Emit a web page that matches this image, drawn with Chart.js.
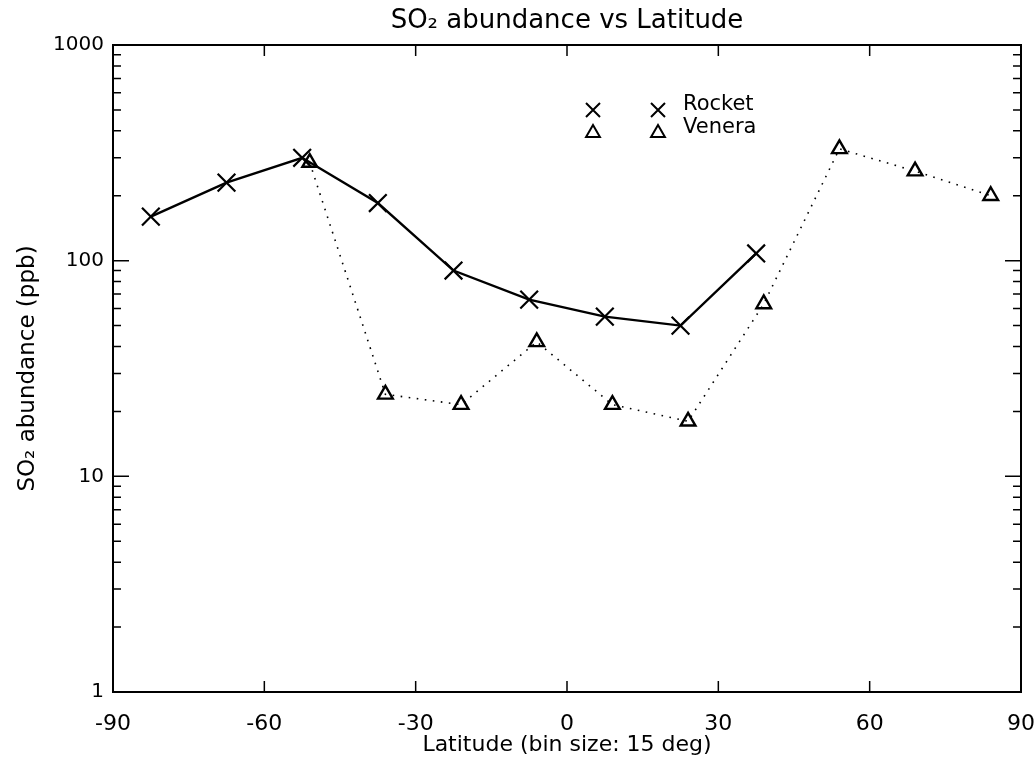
<!DOCTYPE html>
<html>
<head>
<meta charset="utf-8">
<script src="https://cdn.jsdelivr.net/npm/chart.js@4/dist/chart.umd.min.js"></script>
<style>
  html, body { margin: 0; padding: 0; background: #ffffff; }
  #wrap { width: 1036px; height: 766px; position: relative; background: #ffffff; }
</style>
</head>
<body>
<div id="wrap"><canvas id="c" width="1036" height="766"></canvas></div>
<script>
// ---- Data ----
const rocketLat = [-82.5, -67.5, -52.5, -37.5, -22.5, -7.5, 7.5, 22.5, 37.5];
const rocketSO2 = [160, 230, 300, 185, 90, 66, 55, 50, 108];
const veneraLat = [-51, -36, -21, -6, 9, 24, 39, 54, 69, 84];
const veneraSO2 = [285, 24, 21.5, 42, 21.5, 18, 63, 330, 260, 200];

const xTicks = [-90, -60, -30, 0, 30, 60, 90];
const yTicks = [1, 10, 100, 1000];
const seriesNames = ['Rocket', 'Venera'];
const chartTitle = 'SO\u2082 abundance vs Latitude';
const xTitle = 'Latitude (bin size: 15 deg)';
const yTitle = 'SO\u2082 abundance (ppb)';

const FONT = "'DejaVu Sans', 'Liberation Sans', sans-serif";

function toPoints(xs, ys) { return xs.map((x, i) => ({ x: x, y: ys[i] })); }

// minor ticks of the log axis (2..9 in each decade)
const yMinor = [];
for (let d = 0; d < yTicks.length - 1; d++) {
  for (let k = 2; k <= 9; k++) yMinor.push(k * yTicks[d]);
}

const frameTicks = {
  id: 'frameTicks',
  afterDraw(chart) {
    const { ctx, chartArea: a, scales } = chart;
    const xs = scales.x, ys = scales.y;
    ctx.save();
    ctx.strokeStyle = '#000';
    ctx.lineCap = 'butt';
    ctx.lineWidth = 2;
    ctx.strokeRect(a.left, a.top, a.right - a.left, a.bottom - a.top);
    ctx.lineWidth = 1.5;
    ctx.beginPath();
    xTicks.forEach(v => {
      if (v === xs.min || v === xs.max) return;
      const px = xs.getPixelForValue(v);
      ctx.moveTo(px, a.bottom); ctx.lineTo(px, a.bottom - 11);
      ctx.moveTo(px, a.top); ctx.lineTo(px, a.top + 11);
    });
    yTicks.forEach(v => {
      const py = ys.getPixelForValue(v);
      ctx.moveTo(a.left, py); ctx.lineTo(a.left + 16, py);
      ctx.moveTo(a.right, py); ctx.lineTo(a.right - 16, py);
    });
    yMinor.forEach(v => {
      const py = ys.getPixelForValue(v);
      ctx.moveTo(a.left, py); ctx.lineTo(a.left + 8, py);
      ctx.moveTo(a.right, py); ctx.lineTo(a.right - 8, py);
    });
    ctx.stroke();

    // legend (IDL style: symbol, symbol, label)
    const lx1 = a.left + 480, lx2 = a.left + 545, tx = a.left + 570;
    const ly = [a.top + 65, a.top + 88];
    ctx.lineWidth = 2;
    [lx1, lx2].forEach(cx => {
      const r = 7, cy = ly[0];
      ctx.beginPath();
      ctx.moveTo(cx - r, cy - r); ctx.lineTo(cx + r, cy + r);
      ctx.moveTo(cx - r, cy + r); ctx.lineTo(cx + r, cy - r);
      ctx.stroke();
    });
    [lx1, lx2].forEach(cx => {
      const r = 8, cy = ly[1];
      ctx.beginPath();
      ctx.moveTo(cx, cy - r);
      ctx.lineTo(cx + r * 0.866, cy + r * 0.5);
      ctx.lineTo(cx - r * 0.866, cy + r * 0.5);
      ctx.closePath();
      ctx.stroke();
    });
    ctx.fillStyle = '#000';
    ctx.font = '21px ' + FONT;
    ctx.textAlign = 'left';
    ctx.textBaseline = 'middle';
    ctx.fillText(seriesNames[0], tx, ly[0] - 5);
    ctx.fillText(seriesNames[1], tx, ly[1] - 5);
    ctx.restore();
  }
};

new Chart(document.getElementById('c'), {
  type: 'scatter',
  data: {
    datasets: [
      {
        label: seriesNames[0],
        data: toPoints(rocketLat, rocketSO2),
        showLine: true,
        borderColor: '#000',
        backgroundColor: 'rgba(0,0,0,0)',
        borderWidth: 2.4,
        pointStyle: 'crossRot',
        pointRadius: 12.5,
        pointBorderWidth: 2.2,
        pointBorderColor: '#000',
        tension: 0
      },
      {
        label: seriesNames[1],
        data: toPoints(veneraLat, veneraSO2),
        showLine: true,
        borderColor: '#000',
        backgroundColor: 'rgba(0,0,0,0)',
        borderWidth: 1.6,
        borderDash: [1.6, 6.5],
        pointStyle: 'triangle',
        pointRadius: 8.5,
        pointBorderWidth: 2.4,
        pointBorderColor: '#000',
        pointBackgroundColor: 'rgba(255,255,255,0)',
        tension: 0
      }
    ]
  },
  options: {
    responsive: false,
    animation: false,
    events: [],
    layout: { padding: { left: 0, right: 15, top: 0, bottom: 0 } },
    plugins: {
      legend: { display: false },
      tooltip: { enabled: false },
      title: {
        display: true,
        text: chartTitle,
        fullSize: false,
        color: '#000',
        font: { family: FONT, size: 26, weight: 'normal', lineHeight: 1.2 },
        padding: { top: 6, bottom: 7.8 }
      }
    },
    scales: {
      x: {
        type: 'linear',
        position: 'bottom',
        min: -90,
        max: 90,
        grid: { display: false, drawTicks: false },
        border: { display: false },
        afterBuildTicks: s => { s.ticks = xTicks.map(v => ({ value: v })); },
        afterFit: s => { s.height = 74; s.paddingLeft = 0; s.paddingRight = 0; },
        ticks: {
          color: '#000',
          padding: 19,
          maxRotation: 0,
          autoSkip: false,
          font: { family: FONT, size: 22 },
          callback: v => String(v)
        },
        title: {
          display: true,
          text: xTitle,
          color: '#000',
          font: { family: FONT, size: 22, lineHeight: 1.2 },
          padding: { top: 0, bottom: 7.8 }
        }
      },
      y: {
        type: 'logarithmic',
        position: 'left',
        min: 1,
        max: 1000,
        grid: { display: false, drawTicks: false },
        border: { display: false },
        afterBuildTicks: s => { s.ticks = yTicks.map(v => ({ value: v, major: true })); },
        afterFit: s => { s.width = 113; s.paddingTop = 0; s.paddingBottom = 0; },
        ticks: {
          color: '#000',
          padding: 9,
          autoSkip: false,
          font: { family: FONT, size: 20 },
          callback: v => String(v)
        },
        title: {
          display: true,
          text: yTitle,
          color: '#000',
          font: { family: FONT, size: 23, lineHeight: 1.2 },
          padding: { top: 14, bottom: 0 }
        }
      }
    }
  },
  plugins: [frameTicks]
});
</script>
</body>
</html>
